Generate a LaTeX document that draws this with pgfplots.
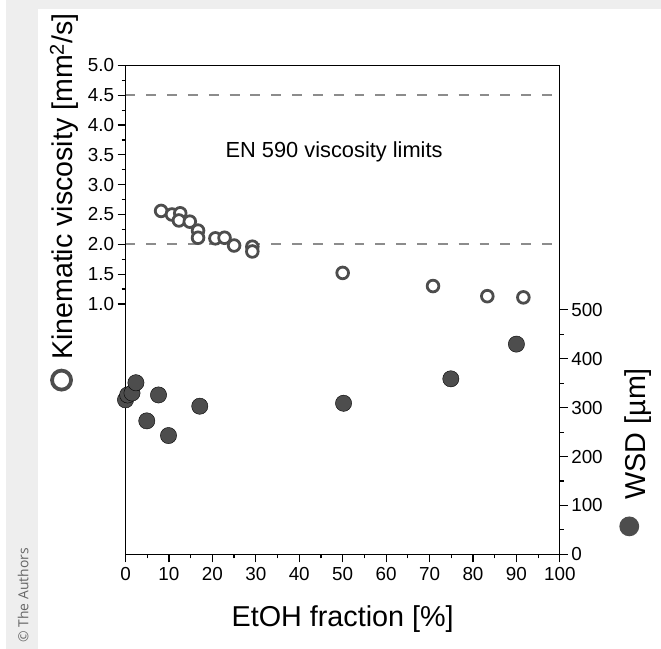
\documentclass[border=0pt]{standalone}
\usepackage{pgfplots}
\pgfplotsset{compat=1.18}
\usepackage{fontspec}
\setmainfont{Liberation Sans}
\newfontfamily\copyfont{Open Sans}
\definecolor{mk}{HTML}{4D4D4D}
\definecolor{dashgray}{HTML}{8C8C8C}
\definecolor{strip}{HTML}{EEEEEE}
\newsavebox\opencirc
\newsavebox\fillcirc
\begin{document}
\sbox\opencirc{\tikz\draw[mk, line width=3.8pt] (0,0) circle (9.6pt);}
\sbox\fillcirc{\tikz\fill[mk] (0,0) circle (10pt);}
\begin{tikzpicture}
\fill[strip] (0,0) rectangle (661pt,654pt);
\fill[white] (33pt,0) rectangle (661pt,645pt);
\pgfplotsset{
  every axis/.append style={
    at={(121pt,95pt)}, anchor=south west,
    width=438pt, height=493pt, scale only axis,
    xmin=0, xmax=100, clip=false,
    tick align=outside,
    major tick length=8pt, minor tick length=4pt,
    every tick/.style={black, line width=1.2pt},
    axis line style={black, line width=1.3pt},
    tick label style={font=\fontsize{19}{21}\selectfont},
    /pgf/number format/assume math mode=true,
  }
}
\begin{axis}[
  ymin=-3.2, ymax=5,
  xtick={0,10,...,100}, minor x tick num=1,
  xtick pos=bottom, ytick pos=left,
  ytick={1,1.5,2,2.5,3,3.5,4,4.5,5},
  minor ytick={1.25,1.75,2.25,2.75,3.25,3.75,4.25,4.75},
  yticklabel style={/pgf/number format/.cd, fixed, fixed zerofill, precision=1},
  xticklabel style={yshift=-2pt},
]
\addplot[dashgray, line width=1.8pt, dash pattern=on 10pt off 11pt] coordinates {(0,4.5) (100,4.5)};
\addplot[dashgray, line width=1.8pt, dash pattern=on 10pt off 11pt] coordinates {(0,2.0) (100,2.0)};
\addplot[only marks, mark=*, mark size=5.9pt, mark options={draw=mk, fill=white, line width=2.8pt}] coordinates {
(8.2,2.56) (10.7,2.50) (12.6,2.52) (12.3,2.40) (14.8,2.38) (16.7,2.23) (16.7,2.11)
(20.7,2.10) (22.8,2.11) (25.0,1.98) (29.2,1.96) (29.2,1.88) (50.0,1.52)
(70.8,1.30) (83.3,1.13) (91.6,1.11)
};
\node[anchor=base west, inner sep=0pt, font=\fontsize{22}{24}\selectfont] at (axis cs:23.0,3.45) {EN 590 viscosity limits};
\end{axis}
\begin{axis}[
  ymin=0, ymax=1000,
  hide x axis, axis y line*=right,
  ytick={0,100,...,500},
  minor ytick={50,150,250,350,450},
]
\addplot[only marks, mark=*, mark size=8.2pt, mark options={draw=none, fill=mk}] coordinates {
(0,316) (0.5,326) (1.5,330) (2.4,351) (4.9,273) (7.6,326) (9.9,243)
(17.1,303) (50.2,309) (74.9,359) (90.0,430)
};
\end{axis}
\node[rotate=90, anchor=base west, inner sep=0pt, font=\fontsize{28.8}{30}\selectfont] at (68pt,259pt) {\usebox\opencirc\hspace{9pt}Kinematic viscosity [mm\textsuperscript{2}/s]};
\node[rotate=90, anchor=base west, inner sep=0pt, font=\fontsize{29}{30}\selectfont] at (645pt,113pt) {\raisebox{6pt}{\usebox\fillcirc}\hspace{17pt}WSD [µm]};
\node[anchor=base, inner sep=0pt, font=\fontsize{29}{30}\selectfont] at (340pt,22pt) {EtOH fraction [\%]};
\node[rotate=90, anchor=base west, inner sep=0pt, text=black!60, font=\copyfont\fontsize{14}{16}\selectfont] at (23pt,6pt) {© The Authors};
\pgfresetboundingbox
\path[use as bounding box] (0,0) rectangle (661pt,654pt);
\end{tikzpicture}
\end{document}
